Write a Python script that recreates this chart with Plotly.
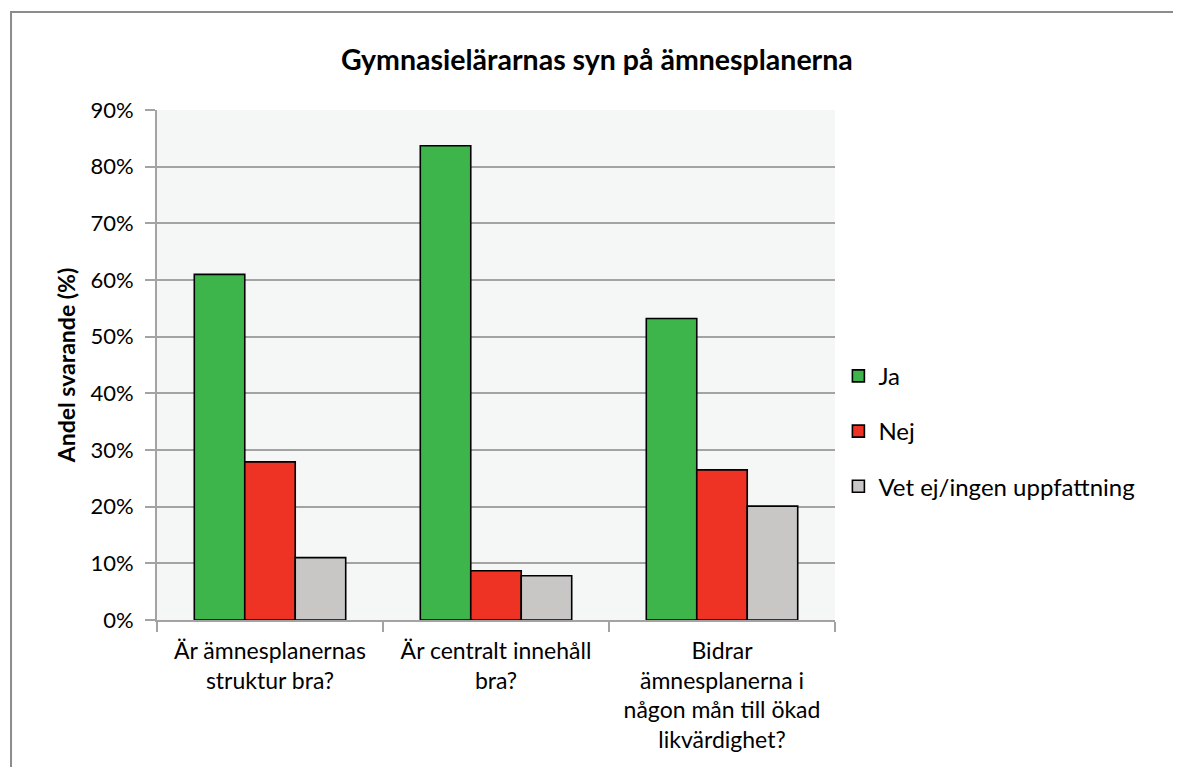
import plotly.graph_objects as go

# ── Data ──────────────────────────────────────────────────────────────────────

QUESTIONS = [
    'Är ämnesplanernas<br>struktur bra?',
    'Är centralt innehåll<br>bra?',
    'Bidrar<br>ämnesplanerna i<br>någon mån till ökad<br>likvärdighet?',
]
JA = [61.0, 83.7, 53.2]
NEJ = [27.9, 8.7, 26.5]
VET_EJ = [11.0, 7.8, 20.1]

SERIES = [
    ('Ja', JA, '#3db54a'),
    ('Nej', NEJ, '#ee3224'),
    ('Vet ej/ingen uppfattning', VET_EJ, '#c8c7c6'),
]

FONT = 'Lato, "Open Sans", sans-serif'
GRID = '#a3a3a3'

# ── Chart ─────────────────────────────────────────────────────────────────────
# the page body has an 8px default margin, so the figure is shrunk by 8px
# and margins pulled in to keep it inside the window

fig = go.Figure()
for name, vals, color in SERIES:
    fig.add_trace(go.Bar(
        x=QUESTIONS, y=vals, name=name, legendgroup=name,
        marker=dict(color=color, line=dict(color='black', width=1.6)),
    ))

fig.update_layout(
    width=1173, height=759,
    margin=dict(l=149, r=346, t=102, b=147),
    paper_bgcolor='white', plot_bgcolor='#f5f6f6',
    font=dict(family=FONT, size=23, color='black'),
    barmode='group', bargap=0.33, bargroupgap=0,
    title=dict(text='<b>Gymnasielärarnas syn på ämnesplanerna</b>',
               font=dict(size=28.5), x=0.502, xref='container',
               xanchor='center', y=0.9315, yref='container', yanchor='middle'),
    legend=dict(x=1.005, y=0.37, xanchor='left', yanchor='middle',
                font=dict(size=24), tracegroupgap=21,
                bgcolor='rgba(0,0,0,0)'),
    xaxis=dict(showline=True, linecolor=GRID, linewidth=2,
               ticks='outside', tickson='boundaries', ticklen=10,
               tickcolor=GRID, tickwidth=2, showgrid=False,
               ticklabelstandoff=9),
    yaxis=dict(title=dict(text='<b>Andel svarande (%)</b>', font=dict(size=23),
                          standoff=8),
               range=[0, 90], dtick=10, ticksuffix='%',
               tickfont=dict(size=22), ticklabelstandoff=7,
               showline=True, linecolor=GRID, linewidth=2,
               ticks='outside', ticklen=10, tickcolor=GRID, tickwidth=2,
               showgrid=True, gridcolor=GRID, gridwidth=2, zeroline=False),
    shapes=[dict(type='rect', xref='paper', yref='paper',
                 x0=-0.2153, x1=1.514, y0=-0.3, y1=1.192,
                 line=dict(color='#8c8c8c', width=2), layer='below')],
)

fig.write_html('out.html')
